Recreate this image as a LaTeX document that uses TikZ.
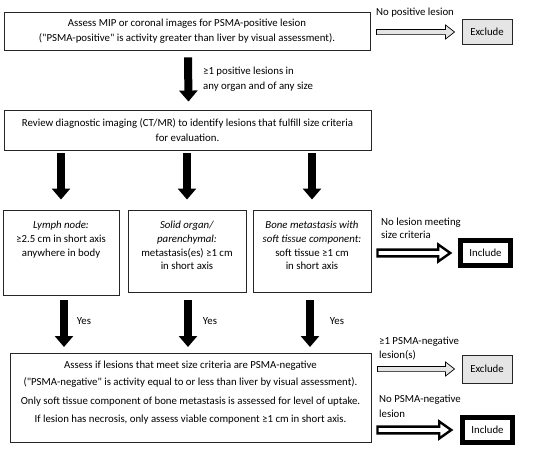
\documentclass[tikz,border=0pt]{standalone}
\usepackage{fontspec}
\setmainfont{Carlito}
\usetikzlibrary{arrows.meta,calc}
\newcommand{\qq}{\textquotedbl}
\tikzset{
  base/.style={font=\fontsize{10.8}{15}\selectfont, inner sep=0pt},
  box/.style={base, draw=black!85, line width=0.9pt, fill=white},
  excl/.style={base, draw=black!85, line width=0.9pt, fill=black!10, minimum width=50, minimum height=25},
  incl/.style={base, draw=black, line width=4.5pt, fill=white, minimum width=50, minimum height=25},
  lbl/.style={base, align=left, anchor=west},
  txt/.style={base, align=center},
  txtsm/.style={align=center, inner sep=0pt, font=\fontsize{10.8}{13.7}\selectfont},
  downarrow/.style={draw=black, line width=8pt, -{Triangle[width=18pt,length=11pt]}},
  harrow/.style n args={4}{draw=black, line width=#4, line join=miter, to path={
    let \p1=(\tikztostart), \p2=(\tikztotarget) in
    (\x1,\y1+#1) -- (\x2-#3,\y1+#1) -- (\x2-#3,\y1+#2) -- (\x2,\y1) --
    (\x2-#3,\y1-#2) -- (\x2-#3,\y1-#1) -- (\x1,\y1-#1) -- cycle}},
  grayarrow/.style={harrow={2.6pt}{7pt}{9pt}{0.7pt}, fill=black!10},
  whitearrow/.style={harrow={3.4pt}{8.5pt}{12pt}{2.4pt}, fill=white},
}
\begin{document}
\begin{tikzpicture}[x=1pt,y=-1pt]
\useasboundingbox (0,0) rectangle (550,451);

% row 1
\node[box, minimum width=366, minimum height=38, align=center] (box1) at (187,31)
  {Assess MIP or coronal images for PSMA-positive lesion\\(\qq PSMA-positive\qq{} is activity greater than liver by visual assessment).};
\node[excl] (excl1) at (487,32) {Exclude};
\node[lbl] (lblnopos) at (376,13) {No positive lesion};
\path[grayarrow] ([xshift=6pt]box1.east |- excl1.west) to ([xshift=-7pt]excl1.west);

% row 2
\node[box, minimum width=367, minimum height=40, align=center] (box2) at (187.5,130)
  {Review diagnostic imaging (CT/MR) to identify lesions that fulfill size criteria\\for evaluation.};

% down arrow
\draw[downarrow] ([xshift=1pt,yshift=-7pt]box1.south) -- ([xshift=1pt,yshift=8pt]box2.north);
\node[lbl] (lblpos) at (203,79.5) {≥1 positive lesions in\\any organ and of any size};

% row 3
\node[box, minimum width=116, minimum height=85] (lymph) at (61,252.5) {};
\node[box, minimum width=118, minimum height=82] (solid) at (187,251) {};
\node[box, minimum width=118, minimum height=82] (bone) at (312,251) {};
\node[txtsm] (lymphT) at (61,239.5) {\textit{Lymph node:}\\≥2.5 cm in short axis\\anywhere in body};
\node[txtsm] (solidT) at (187,245.5) {\textit{Solid organ/}\\\textit{parenchymal:}\\metastasis(es) ≥1 cm\\in short axis};
\node[txtsm] (boneT) at (312,245.5) {\textit{Bone metastasis with}\\\textit{soft tissue component:}\\soft tissue ≥1 cm\\in short axis};

\draw[downarrow] ([yshift=-3pt]box2.south -| lymph.north) -- ([yshift=10pt]lymph.north);
\draw[downarrow] ([yshift=-3pt]box2.south -| solid.north) -- ([yshift=10pt]solid.north);
\draw[downarrow] ([yshift=-3pt]box2.south -| bone.north) -- ([yshift=10pt]bone.north);

\node[incl] (incl1) at (485.5,253) {Include};
\node[lbl, font=\fontsize{10.8}{13.5}\selectfont] (lblnolesion) at (381,228.5) {No lesion meeting\\size criteria};
\path[whitearrow] ([xshift=6pt]bone.east |- incl1.west) to ([xshift=-8pt]incl1.west);

% row 4
\node[box, minimum width=361, minimum height=89] (box4) at (190.5,397.5) {};
\node[txt, font=\fontsize{10.8}{17}\selectfont] (box4T) at (190.5,393)
  {Assess if lesions that meet size criteria are PSMA-negative\\
   (\qq PSMA-negative\qq{} is activity equal to or less than liver by visual assessment).\\[1.5pt]
   Only soft tissue component of bone metastasis is assessed for level of uptake.\\[1.5pt]
   If lesion has necrosis, only assess viable component ≥1 cm in short axis.};

\draw[downarrow] ([xshift=3pt,yshift=-5pt]lymph.south) -- ([xshift=3pt]lymph.south |- 0,347);
\draw[downarrow] ([xshift=1pt,yshift=-8pt]solid.south) -- ([xshift=1pt]solid.south |- 0,347);
\draw[downarrow] ([xshift=-2pt,yshift=-8pt]bone.south) -- ([xshift=-2pt]bone.south |- 0,347);
\node[txt] (yes1) at (84,321) {Yes};
\node[txt] (yes2) at (210,321) {Yes};
\node[txt] (yes3) at (337,321) {Yes};

\node[excl, minimum height=28] (excl2) at (487,369) {Exclude};
\node[lbl, font=\fontsize{10.8}{13.5}\selectfont] (lblneg) at (379,348.5) {≥1 PSMA-negative\\lesion(s)};
\path[grayarrow] ([xshift=6pt]box4.east |- excl2.west) to ([xshift=-7pt]excl2.west);

\node[incl] (incl2) at (487.5,430) {Include};
\node[lbl] (lblnoneg) at (379,406.5) {No PSMA-negative\\lesion};
\path[whitearrow] ([xshift=6pt]box4.east |- incl2.west) to ([xshift=-9pt]incl2.west);
\end{tikzpicture}
\end{document}
